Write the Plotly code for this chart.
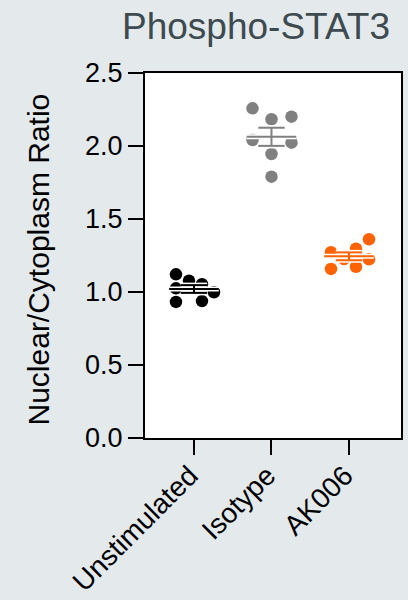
import numpy as np
import plotly.graph_objects as go

# ---- data ----
categories = ["Unstimulated", "Isotype", "AK006"]
unstimulated = [1.121, 1.077, 1.053, 1.025, 0.998, 0.932, 0.938]
isotype = [2.258, 2.183, 2.201, 2.041, 2.023, 1.945, 1.790]
ak006 = [1.361, 1.272, 1.297, 1.226, 1.224, 1.158, 1.173]
y_ticks = [0.0, 0.5, 1.0, 1.5, 2.0, 2.5]

# ---- styling ----
groups = [unstimulated, isotype, ak006]
colors = ["#000000", "#808080", "#ff6200"]
# horizontal scatter offsets (pixels) so the dots do not sit on top of each other
swarm_px = [
    [-18, -5, 8, -18, 20, -18, 8],
    [-19, 0, 20, -19, 20, 0, 0],
    [20, -18, 7, -5, 20, -18, 7],
]
PX_PER_CAT = 77.5
FONT = "Arial, Liberation Sans, sans-serif"
BG = "#e4e9ec"

fig = go.Figure()

for i, (vals, col, offs) in enumerate(zip(groups, colors, swarm_px)):
    xs = [i + o / PX_PER_CAT for o in offs]
    fig.add_trace(go.Scatter(
        x=xs, y=vals, mode="markers",
        marker=dict(size=12.5, color=col, line=dict(width=0)),
        showlegend=False, hoverinfo="y",
    ))

# mean +/- SEM, drawn with a white halo under the coloured stroke
for i, (vals, col) in enumerate(zip(groups, colors)):
    arr = np.asarray(vals)
    m = arr.mean()
    sem = arr.std(ddof=1) / np.sqrt(arr.size)
    mw, cw = 0.32, 0.17
    segs = [
        ([i - mw, i + mw], [m, m]),
        ([i - cw, i + cw], [m + sem, m + sem]),
        ([i - cw, i + cw], [m - sem, m - sem]),
        ([i, i], [m - sem, m + sem]),
    ]
    for lw, c in ((5, "white"), (2, col)):
        for sx, sy in segs:
            fig.add_trace(go.Scatter(
                x=sx, y=sy, mode="lines",
                line=dict(color=c, width=lw),
                showlegend=False, hoverinfo="skip",
            ))

fig.update_layout(
    width=408, height=600,
    margin=dict(l=145, r=7, t=73, b=162, autoexpand=False),
    paper_bgcolor=BG, plot_bgcolor="white",
    font=dict(family=FONT, color="black"),
    showlegend=False,
)
fig.update_xaxes(
    range=[-0.632, 2.671], automargin=False,
    tickvals=list(range(len(categories))), ticktext=categories,
    tickangle=-45, tickfont=dict(size=28, family=FONT, color="black"),
    ticklabelstandoff=-7, ticklabelshift=-4,
    ticks="outside", ticklen=15, tickwidth=2, tickcolor="black",
    showline=True, linecolor="black", linewidth=2, mirror=True,
    showgrid=False, zeroline=False,
)
fig.update_yaxes(
    range=[0, 2.5], automargin=False,
    tickvals=y_ticks, ticktext=[f"{v:.1f}" for v in y_ticks],
    tickfont=dict(size=27, family=FONT, color="black"),
    ticks="outside", ticklen=15, tickwidth=2, tickcolor="black",
    showline=True, linecolor="black", linewidth=2, mirror=True,
    showgrid=False, zeroline=False,
)

fig.add_annotation(
    text="Nuclear/Cytoplasm Ratio", textangle=-90,
    xref="paper", yref="paper", x=0, y=0.5,
    xanchor="center", yanchor="middle", xshift=-107, yshift=-4,
    showarrow=False, font=dict(size=30, family=FONT, color="black"),
)
fig.add_annotation(
    text="Phospho-STAT3",
    xref="paper", yref="paper", x=1, y=1,
    xanchor="right", yanchor="middle", xshift=-9, yshift=47,
    showarrow=False, font=dict(size=37, family=FONT, color="#3d4a50"),
)

fig.write_html("out.html")
